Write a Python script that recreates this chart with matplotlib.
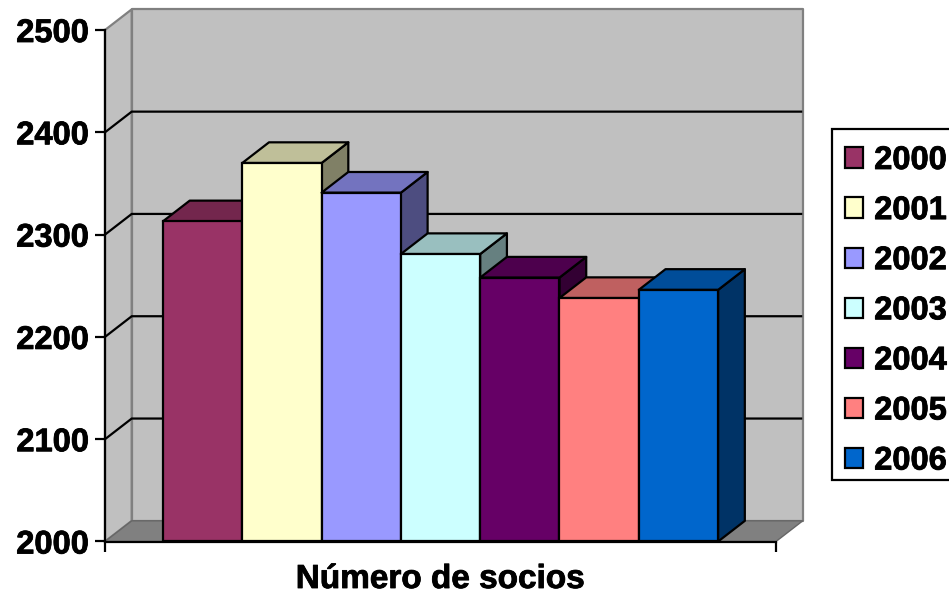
import matplotlib
matplotlib.use("Agg")
import matplotlib.pyplot as plt
import matplotlib.patheffects as pe
from matplotlib.colors import to_rgb
from matplotlib.patches import Patch, Polygon, Rectangle

plt.rcParams["font.family"] = ["Liberation Sans", "DejaVu Sans"]
plt.rcParams["font.weight"] = "bold"
plt.rcParams["axes.labelweight"] = "bold"
plt.rcParams["font.size"] = 23.5

years = ["2000", "2001", "2002", "2003", "2004", "2005", "2006"]
socios = [2313, 2370, 2341, 2281, 2258, 2238, 2246]
colors = ["#993366", "#FFFFCC", "#9999FF", "#CCFFFF", "#660066", "#FF8080", "#0066CC"]
y_ticks = [2000, 2100, 2200, 2300, 2400, 2500]
x_label = "Número de socios"

# fake 3d depth, in data units
DX = 0.337
DY = 20.2
X0 = -1.231
X1 = 7.23
Y0 = 2000
Y1 = 2500
LW = 1.6
HEAVY = [pe.withStroke(linewidth=0.6, foreground="black")]


def shade(color, k):
    return tuple(c * k for c in to_rgb(color))


def poly(ax, pts, face, edge="black", lw=LW, z=1):
    ax.add_patch(Polygon(pts, closed=True, facecolor=face, edgecolor=edge,
                         linewidth=lw, joinstyle="round", clip_on=False,
                         zorder=z))


fig = plt.figure(figsize=(9.49, 5.96), dpi=100)
ax = fig.add_axes([105 / 949, 54.5 / 596, 671 / 949, 511.5 / 596])
ax.set_xlim(X0, X1)
ax.set_ylim(Y0, Y1)

# walls and floor
poly(ax, [(X0, Y0), (X0 + DX, Y0 + DY), (X0 + DX, Y1 + DY), (X0, Y1)],
     "#C0C0C0", "#808080", z=0.5)
poly(ax, [(X0 + DX, Y0 + DY), (X1 + DX, Y0 + DY), (X1 + DX, Y1 + DY), (X0 + DX, Y1 + DY)],
     "#C0C0C0", "#808080", z=0.6)
poly(ax, [(X0, Y0), (X1, Y0), (X1 + DX, Y0 + DY), (X0 + DX, Y0 + DY)],
     "#808080", "#666666", lw=1, z=0.7)

for t in y_ticks[1:-1]:
    ax.plot([X0, X0 + DX, X1 + DX - 0.02], [t, t + DY, t + DY], color="black",
            lw=LW, clip_on=False, zorder=0.8, solid_joinstyle="miter")

# bars left to right, each front hides the previous side
for i, (val, col) in enumerate(zip(socios, colors)):
    z = 2 + i
    poly(ax, [(i + 0.5, Y0), (i + 0.5 + DX, Y0 + DY), (i + 0.5 + DX, val + DY), (i + 0.5, val)],
         shade(col, 0.5), z=z)
    poly(ax, [(i - 0.5, val), (i + 0.5, val), (i + 0.5 + DX, val + DY), (i - 0.5 + DX, val + DY)],
         shade(col, 0.75), z=z)
    ax.bar(i, val - Y0, bottom=Y0, width=1, color=col, edgecolor="black",
           linewidth=LW, zorder=z + 0.5, clip_on=False)

ax.set_yticks(y_ticks)
ax.set_xticks([X0, X1])
ax.set_xticklabels([])
ax.tick_params(axis="both", length=7.2, width=1.6, pad=4.5)
xl = ax.set_xlabel(x_label, labelpad=4.5, fontsize=24)
xl.set_path_effects(HEAVY)
for lab in ax.get_yticklabels():
    lab.set_path_effects(HEAVY)
for s in ["top", "right"]:
    ax.spines[s].set_visible(False)
for s in ["left", "bottom"]:
    ax.spines[s].set_linewidth(1.6)
    ax.spines[s].set_zorder(20)
ax.patch.set_visible(False)

# legend box runs off the right edge of the picture, so drawn by hand
fig.add_artist(Rectangle((832 / 949, 1 - 480 / 596), 130 / 949, 351 / 596,
                         transform=fig.transFigure, facecolor="white",
                         edgecolor="black", linewidth=1.6))
handles = [Patch(facecolor=c, edgecolor="black", linewidth=LW) for c in colors]
leg = fig.legend(handles, years, loc="upper left",
                 bbox_to_anchor=(844.5 / 949, 1 - 145 / 596),
                 bbox_transform=fig.transFigure, borderaxespad=0, borderpad=0,
                 frameon=False, handlelength=0.58, handleheight=0.58,
                 handletextpad=0.33, labelspacing=0.585)
for t in leg.get_texts():
    t.set_path_effects(HEAVY)

fig.savefig("out.png", dpi=100)
